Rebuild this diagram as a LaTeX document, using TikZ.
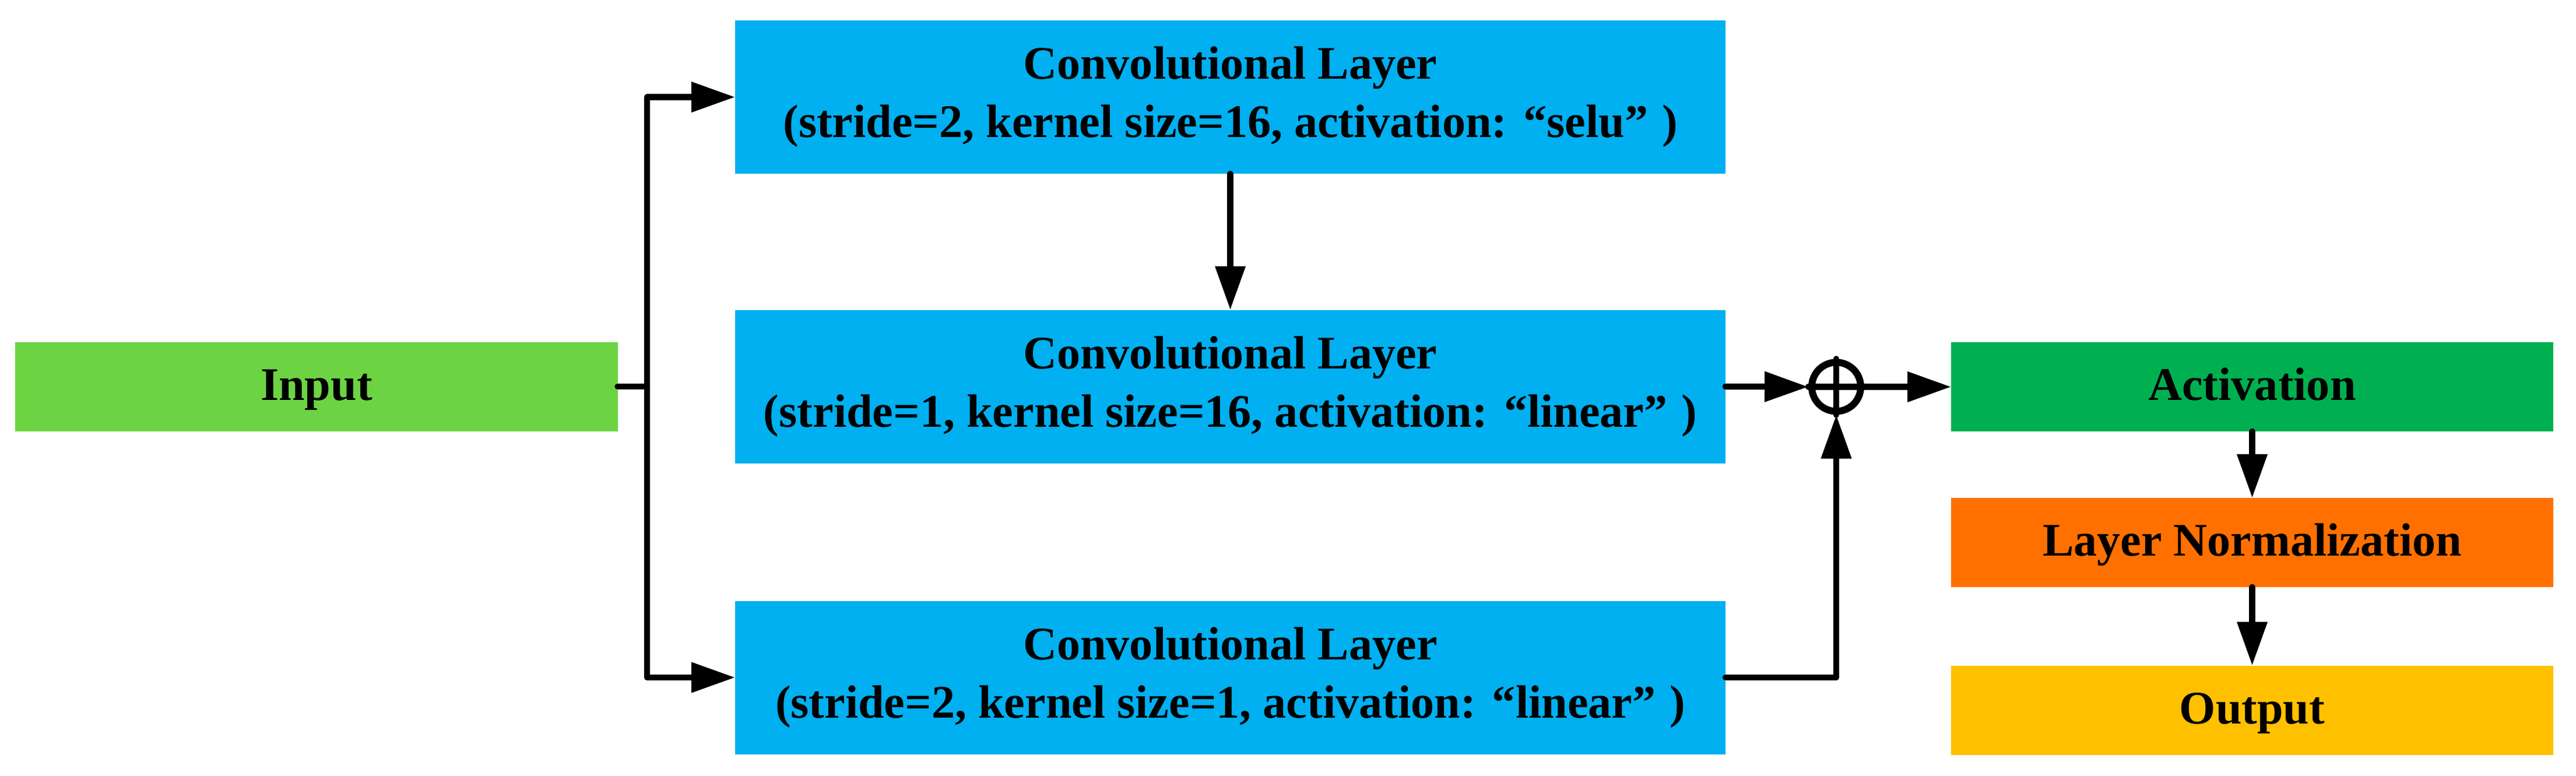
\documentclass[tikz,border=0pt]{standalone}
\usepackage{fontspec}
\setmainfont{Liberation Serif}
\usepackage{tikz}
\usetikzlibrary{arrows.meta}
\definecolor{convblue}{HTML}{00B0F0}
\definecolor{inputgreen}{HTML}{6CD443}
\definecolor{actgreen}{HTML}{00B050}
\definecolor{normorange}{HTML}{FF7000}
\definecolor{outyellow}{HTML}{FFC000}

\begin{document}
\begin{tikzpicture}[->,>={Triangle[length=0.75cm,width=0.5cm]},line width=0.105cm,
                    line cap=round,line join=round,
                    font=\fontsize{22.8pt}{28.45pt}\selectfont\bfseries]
  \tikzstyle{every node}=[inner sep=0pt,outer sep=0pt,align=center]
  \tikzstyle{conv}=[fill=convblue,minimum width=16.99cm,minimum height=2.63cm]
  \tikzstyle{block}=[minimum width=10.33cm,minimum height=1.53cm,
                     text height=0.62cm,text depth=0.16cm]

  \useasboundingbox (0,0) rectangle (44.19,-13.31);

  \node[block,fill=inputgreen] (inp)   at (5.43,-6.63)     {Input};
  \node[conv]                  (conv1) at (21.105,-1.665)  {Convolutional Layer\\(stride=2, kernel size=16, activation:\hspace{.35em}“selu”\hspace{.3em})};
  \node[conv]                  (conv2) at (21.105,-6.63)   {Convolutional Layer\\(stride=1, kernel size=16, activation:\hspace{.35em}“linear”\hspace{.3em})};
  \node[conv]                  (conv3) at (21.105,-11.62)  {Convolutional Layer\\(stride=2, kernel size=1, activation:\hspace{.35em}“linear”\hspace{.3em})};
  \node[circle,draw,line width=0.12cm,minimum size=0.84cm,outer sep=0.06cm] (add) at (31.50,-6.635) {};
  \node[block,fill=actgreen]   (act)   at (38.635,-6.635)  {Activation};
  \node[block,fill=normorange] (norm)  at (38.635,-9.305)  {Layer Normalization};
  \node[block,fill=outyellow]  (out)   at (38.635,-12.18)  {Output};

  \coordinate (split) at (11.10,-6.63);

  \draw[-] (add.north) -- (add.south);
  \draw[-] (add.west) -- (add.east);

  \draw[-] (inp.east) -- (split);
  \draw (split) |- (conv1.west);
  \draw (split) |- (conv3.west);
  \draw (conv1.south) -- (conv2.north);
  \draw (conv2.east) -- (add.west);
  \draw (conv3.east) -| (add.south);
  \draw (add.east) -- (act.west);
  \draw (act.south) -- (norm.north);
  \draw (norm.south) -- (out.north);

\end{tikzpicture}
\end{document}
